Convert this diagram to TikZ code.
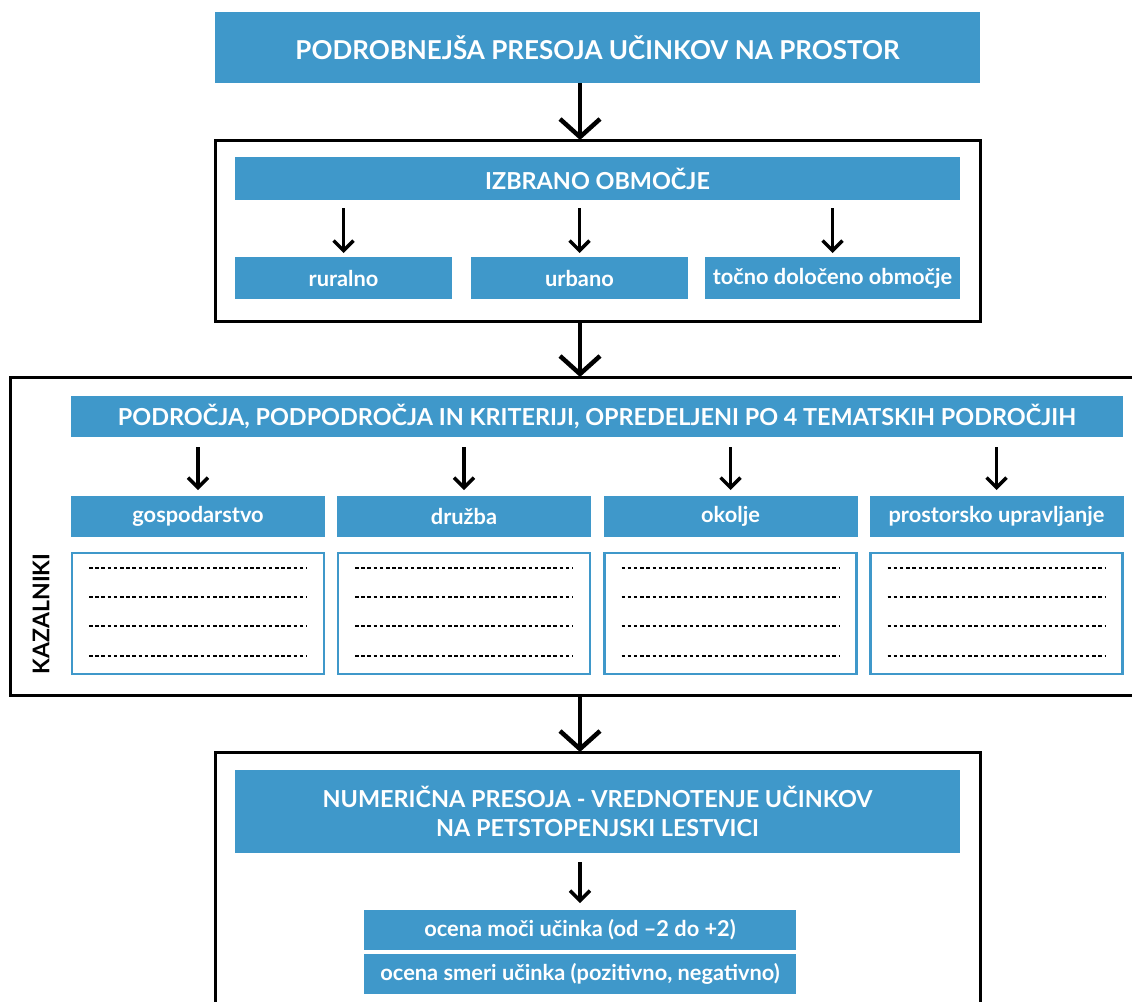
\documentclass[tikz,border=0pt]{standalone}
\usepackage{fontspec}
\setmainfont{Lato}
\usetikzlibrary{arrows.meta,positioning}
\definecolor{boxblue}{RGB}{63,152,202}
\newcommand{\bigfont}{\fontsize{26}{30}\selectfont\bfseries}
\newcommand{\headfont}{\fontsize{23.4}{29.5}\selectfont\bfseries}
\newcommand{\labfont}{\fontsize{21.8}{24}\selectfont\bfseries}

\begin{document}
\begin{tikzpicture}[x=1pt,y=-1pt,
    bluebox/.style={fill=boxblue,text=white,inner sep=0pt,outer sep=0pt,align=center},
    frame/.style={draw=black,line width=3pt,inner sep=0pt,outer sep=0pt},
    listbox/.style={draw=boxblue,line width=2.5pt,fill=white,inner sep=0pt,outer sep=0pt,
        minimum width=252pt,minimum height=121pt},
    bigarrow/.style={line width=4.5pt,-{Straight Barb[length=18pt,width=40pt]}},
    smallarrow/.style={line width=3.5pt,-{Straight Barb[length=10pt,width=20pt]}},
    dotline/.style={line width=2.4pt,dash pattern=on 3.5pt off 2.7pt}]

\path[use as bounding box,clip] (0,0) rectangle (1132,1001);

% spine of the big arrows
\coordinate (spine) at (580,0);

% === Title ===
\node[bluebox,font=\bigfont,minimum width=765pt,minimum height=71pt] (title) at (597.5,47.5)
    {PODROBNEJŠA PRESOJA UČINKOV NA PROSTOR};

% === Frame 1: selected area ===
\node[frame,minimum width=765pt,minimum height=181pt] (frame1) at (597.5,230.5) {};
\node[bluebox,font=\headfont,minimum width=725pt,minimum height=43pt] (area) at (597.5,178.5)
    {IZBRANO OBMOČJE};
\node[bluebox,font=\labfont,minimum width=217pt,minimum height=42pt] (rural) at (343.5,278) {ruralno};
\node[bluebox,font=\labfont,minimum width=217pt,minimum height=42pt] (urban) at (579.5,278) {urbano};
\node[bluebox,font=\labfont,minimum width=255pt,minimum height=42pt] (exact) at (832.5,278)
    {točno določeno območje};
\foreach \n in {rural,urban,exact}
    \draw[smallarrow,shorten <=8pt,shorten >=4pt] (area.south -| \n.north) -- (\n.north);

% === Frame 2: indicators ===
\node[frame,anchor=north west,minimum width=1140pt,minimum height=318pt] (frame2) at (10,377) {};
\node[bluebox,font=\headfont,minimum width=1052pt,minimum height=41pt] (fields) at (597,416.5)
    {PODROČJA, PODPODROČJA IN KRITERIJI, OPREDELJENI PO 4 TEMATSKIH PODROČJIH};
\node[font=\fontsize{23}{27}\selectfont\bfseries,rotate=90] (kaz) at (41,614) {KAZALNIKI};

\foreach \cx/\n/\lbl in {198/econ/gospodarstvo,464/soc/družba,730.5/env/okolje,996.5/plan/prostorsko upravljanje} {
    \node[bluebox,font=\labfont,minimum width=254pt,minimum height=41pt] (\n) at (\cx,516.5) {\lbl};
    \node[listbox] (\n list) at (\cx,613.5) {};
    \draw[smallarrow,shorten <=10pt,shorten >=6pt] (fields.south -| \n.north) -- (\n.north);
    % dotted rows
    \foreach \ry in {568,597,626,656}
        \draw[dotline] (\cx-109,\ry) -- (\cx+109,\ry);
}

% === Frame 3: numeric assessment ===
\node[frame,anchor=north west,minimum width=765pt,minimum height=300pt] (frame3) at (215,752) {};
\node[bluebox,font=\headfont,minimum width=725pt,minimum height=83pt] (num) at (597.5,811.5)
    {NUMERIČNA PRESOJA - VREDNOTENJE UČINKOV\\NA PETSTOPENJSKI LESTVICI};
\node[bluebox,font=\labfont,minimum width=432pt,minimum height=40pt] (power) at (580,930)
    {ocena moči učinka (od –2 do +2)};
\node[bluebox,font=\labfont,minimum width=432pt,minimum height=40pt] (dir) at (580,974)
    {ocena smeri učinka (pozitivno, negativno)};
\draw[smallarrow,shorten <=9pt,shorten >=7pt] (num.south -| power.north) -- (power.north);

% === Big arrows between stages ===
\draw[bigarrow] (title.south -| spine) -- (frame1.north -| spine);
\draw[bigarrow] (frame1.south -| spine) -- (frame2.north -| spine);
\draw[bigarrow] (frame2.south -| spine) -- (frame3.north -| spine);

\end{tikzpicture}
\end{document}
